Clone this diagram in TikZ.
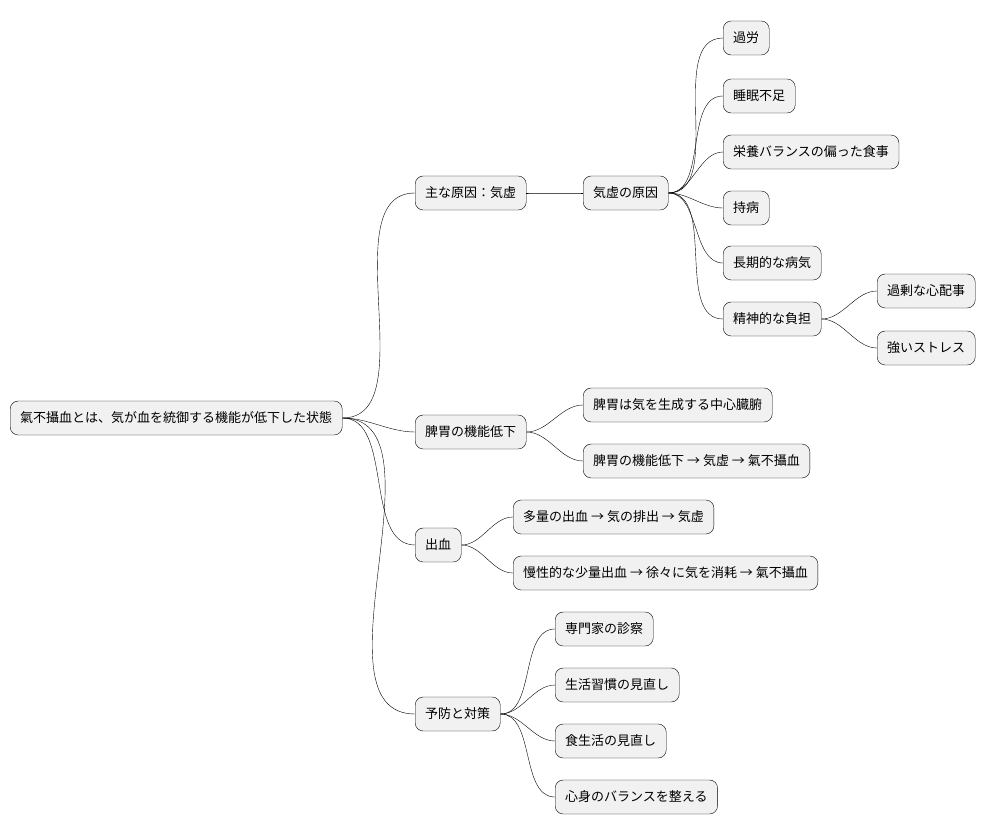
\documentclass[tikz,border=0pt]{standalone}
\usepackage{fontspec}
\setmainfont{Noto Sans CJK JP}
\begin{document}
\begin{tikzpicture}[%
      x=1pt, y=-1pt,
      topic/.style={draw, rounded corners=8pt, fill={rgb,255:red,241;green,241;blue,241},
        minimum height=34pt, inner xsep=10pt, anchor=west, font=\fontsize{13}{15}\selectfont},
      branch/.style={out=0, in=180, looseness=0.9},
      ]
      \useasboundingbox (0,0) rectangle (992,837);
      \node[topic] (root) at (10,418) {氣不攝血とは、気が血を統御する機能が低下した状態};

      \node[topic] (cause) at (415,193) {主な原因：気虚};
      \node[topic] (qxcause) at (583,193) {気虚の原因};
      \node[topic] (overwork) at (723,38) {過労};
      \node[topic] (sleep) at (723,96) {睡眠不足};
      \node[topic] (diet) at (723,152) {栄養バランスの偏った食事};
      \node[topic] (chronic) at (723,208) {持病};
      \node[topic] (longill) at (723,263) {長期的な病気};
      \node[topic] (mental) at (723,319) {精神的な負担};
      \node[topic] (worry) at (877,291) {過剰な心配事};
      \node[topic] (stress) at (877,348) {強いストレス};

      \node[topic] (spleen) at (415,432) {脾胃の機能低下};
      \node[topic] (spleenA) at (583,405) {脾胃は気を生成する中心臓腑};
      \node[topic] (spleenB) at (583,461) {脾胃の機能低下 → 気虚 → 氣不攝血};

      \node[topic] (bleed) at (415,545) {出血};
      \node[topic] (bleedA) at (513,517) {多量の出血 → 気の排出 → 気虚};
      \node[topic] (bleedB) at (513,573) {慢性的な少量出血 → 徐々に気を消耗 → 氣不攝血};

      \node[topic] (prevent) at (415,714) {予防と対策};
      \node[topic] (expert) at (555,629) {専門家の診察};
      \node[topic] (habit) at (555,685) {生活習慣の見直し};
      \node[topic] (food) at (555,741) {食生活の見直し};
      \node[topic] (balance) at (555,797) {心身のバランスを整える};

      \foreach \a/\b in {root/cause, root/spleen, root/bleed, root/prevent,
          cause/qxcause, qxcause/overwork, qxcause/sleep, qxcause/diet,
          qxcause/chronic, qxcause/longill, qxcause/mental,
          mental/worry, mental/stress, spleen/spleenA, spleen/spleenB,
          bleed/bleedA, bleed/bleedB, prevent/expert, prevent/habit,
          prevent/food, prevent/balance}
        \draw (\a.east) to[branch] (\b.west);
\end{tikzpicture}
\end{document}
